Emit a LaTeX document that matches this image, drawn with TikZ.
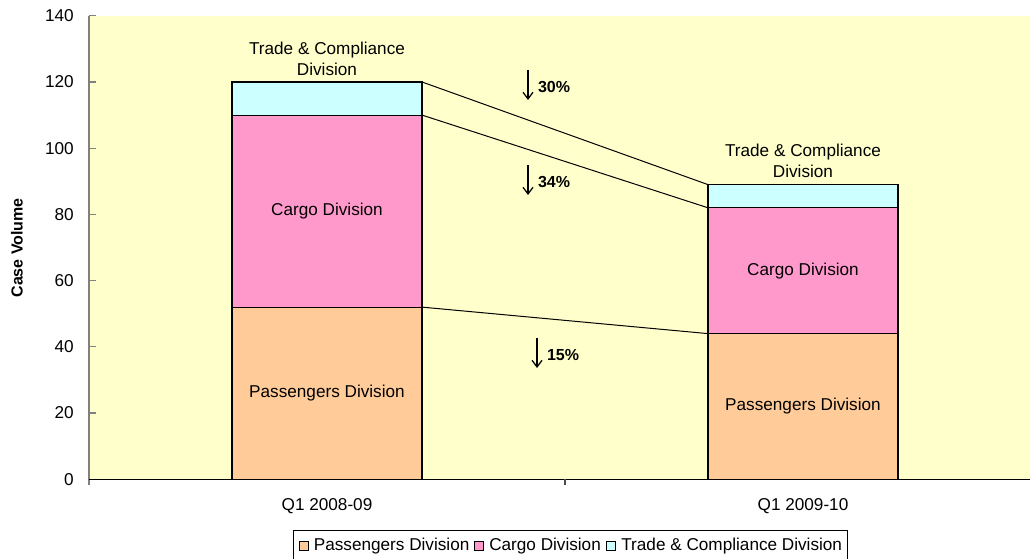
\documentclass[tikz,border=0pt]{standalone}
\usepackage{fontspec}
\setmainfont{Liberation Sans}
\usetikzlibrary{arrows.meta,positioning,fit}
\definecolor{plotbg}{HTML}{FFFFCC}
\definecolor{passpeach}{HTML}{FFCC99}
\definecolor{cargopink}{HTML}{FF99CC}
\definecolor{tradecyan}{HTML}{CCFFFF}
\definecolor{axisgrey}{HTML}{808080}

\begin{document}
\begin{tikzpicture}[x=0.6pt,y=0.6pt,font=\fontsize{10.3}{12.6}\selectfont,
  barseg/.style={draw=black,line width=0.7pt,minimum width=114pt,inner sep=0pt,outer sep=0pt,anchor=south},
  ticklbl/.style={anchor=east,inner sep=0pt},
  pctlbl/.style={anchor=west,inner sep=1pt,font=\fontsize{9.6}{11}\selectfont\bfseries},
  pctarrow/.style={-{Straight Barb[length=4pt,width=6pt]},line width=0.75pt},
  legsq/.style={draw=black,line width=0.5pt,minimum size=5.4pt,inner sep=0pt},
  legtxt/.style={inner sep=0pt}]
  \useasboundingbox (0,0) rectangle (1030,559);
  \fill[white] (0,0) rectangle (1030,559);
  \fill[plotbg] (89,79.7) rectangle (1030,543.3);

  % stacked bars, one unit of case volume = 1.9866pt
  \begin{scope}[shift={(89,79.7)},y=1.9866pt]
    \foreach \cx/\p/\c/\t/\n/\q in {238/52/110/120/a/Q1 2008-09, 714/44/82/89/b/Q1 2009-10}{
      \node[barseg,fill=passpeach,minimum height={\p*1.9866pt}] (pass\n) at (\cx,0) {Passengers Division};
      \node[barseg,fill=cargopink,minimum height={(\c-\p)*1.9866pt}] (cargo\n) at (pass\n.north) {Cargo Division};
      \node[barseg,fill=tradecyan,minimum height={(\t-\c)*1.9866pt}] (trade\n) at (cargo\n.north) {};
      \node[anchor=south,align=center,inner sep=3.8pt] (tlbl\n) at (trade\n.north) {Trade \& Compliance\\Division};
      \node (cat\n) at (\cx,-8.1) {\q};
    }
    \foreach \s in {pass,cargo,trade}
      \draw[line width=0.6pt] (\s a.north east) -- (\s b.north west);

    \foreach \v in {0,20,...,140}{
      \draw[axisgrey,line width=0.7pt] (0,\v) -- (7,\v);
      \node[ticklbl] (ytick\v) at (-15,\v) {\v};
    }
    \draw[axisgrey,line width=0.8pt] (0,-1.8) -- (0,140);
    \draw[black,line width=0.9pt] (0,0) -- (941,0);
    \draw[black!70,line width=0.8pt] (476,0) -- (476,-1.8);
    \node[rotate=90,font=\fontsize{9.6}{11}\selectfont\bfseries] (ytitle) at (-72,69.9) {Case Volume};
  \end{scope}

  % drop in case volume
  \foreach \pc/\ax/\ay in {30/528/489, 34/528/394, 15/537/221}{
    \coordinate (top\pc) at (\ax,\ay);
    \coordinate (tip\pc) at (\ax,\ay-30);
    \draw[pctarrow] (top\pc) -- (tip\pc);
    \node[pctlbl] (pct\pc) at (\ax+8,\ay-17) {\pc\%};
  }

  % legend
  \node[legsq,fill=cargopink] (kcargo) at (479,13) {};
  \node[legtxt,right=3pt of kcargo] (lcargo) {Cargo Division};
  \node[legtxt,left=2.6pt of kcargo] (lpass) {Passengers Division};
  \node[legsq,fill=passpeach,left=3pt of lpass] (kpass) {};
  \node[legsq,fill=tradecyan,right=3pt of lcargo] (ktrade) {};
  \node[legtxt,right=3pt of ktrade] (ltrade) {Trade \& Compliance Division};
  \node[draw=black,line width=0.6pt,inner xsep=3pt,inner ysep=4pt,fit=(kpass)(ltrade)] (legend) {};
\end{tikzpicture}
\end{document}
